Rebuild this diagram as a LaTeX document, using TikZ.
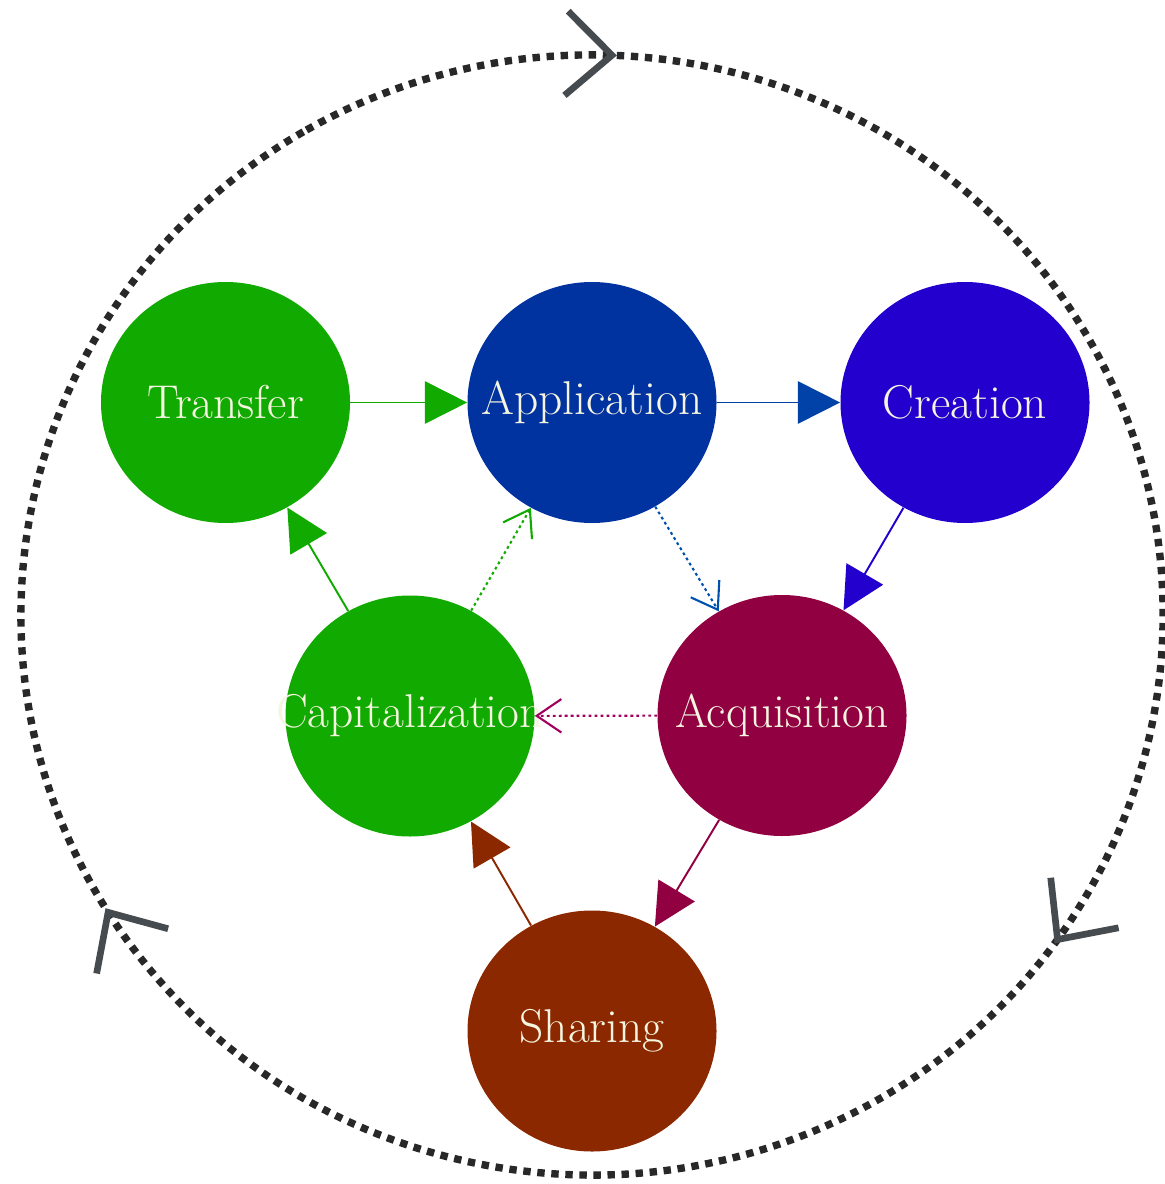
\documentclass[tikz,border=0pt]{standalone}
\usepackage{tikz}
\usetikzlibrary{positioning,arrows.meta,shapes.geometric,decorations.markings}

\definecolor{cgreen}{RGB}{17,170,0}
\definecolor{cblue}{RGB}{0,50,160}
\definecolor{cpurple}{RGB}{35,0,205}
\definecolor{ccrimson}{RGB}{145,0,65}
\definecolor{cbrown}{RGB}{140,40,0}
\definecolor{ctext}{RGB}{245,245,225}
\definecolor{cring}{RGB}{40,40,40}
\definecolor{cchev}{RGB}{70,75,80}

% label that does not widen its circle
\newcommand{\phtext}[1]{\makebox[0pt]{#1}}

\begin{document}
\begin{tikzpicture}[on grid,
		phase/.style={ellipse,minimum width=4.98cm,minimum height=4.82cm,inner sep=0pt,text=ctext,font=\fontsize{27}{30}\selectfont},
		flow/.style={line width=1.1pt,-{Triangle[length=24pt,width=24pt]}},
		weak/.style={line width=1.2pt,dash pattern=on 1.6pt off 1.8pt,-{Straight Barb[length=14pt,width=19pt,line width=1.2pt]}},
		chev/.tip={Straight Barb[length=26pt,width=48pt,line width=3.8pt,color=cchev]},
		ring/.style={cring,line width=4.2pt,dash pattern=on 4.2pt off 3.8pt}]
		\useasboundingbox (0,0) rectangle (23.28,-23.68);
		\node (tr) [phase,fill=cgreen] at (4.51,-8.05) {\phtext{Transfer}};
		\node (ap) [phase,fill=cblue,right=7.33cm of tr] {\phtext{Application}};
		\node (cr) [phase,fill=cpurple,right=7.46cm of ap] {\phtext{Creation}};
		\node (ca) [phase,fill=cgreen,below right=6.27cm and 3.69cm of tr] {\phtext{Capitalization}};
		\node (aq) [phase,fill=ccrimson,below right=6.26cm and 3.8cm of ap] {\phtext{Acquisition}};
		\node (sh) [phase,fill=cbrown,below right=6.3cm and 3.64cm of ca] {\phtext{Sharing}};
		\coordinate (ctr) at (11.84,-12.3);
		% outer cycle
		\draw[ring,postaction={decorate},decoration={markings,
			mark=at position 0.091 with {\arrow{chev}},
			mark=at position 0.433 with {\arrow{chev}},
			mark=at position 0.747 with {\arrow{chev}}}]
			(ctr) ++(120:11.42 and 11.2) arc[start angle=120,end angle=-240,x radius=11.42,y radius=11.2];
		\draw (tr) edge[flow,cgreen] (ap);
		\draw (ap) edge[flow,cblue!92!cyan] (cr);
		\draw (cr) edge[flow,cpurple] (aq);
		\draw (aq) edge[flow,ccrimson] (sh);
		\draw (sh) edge[flow,cbrown] (ca);
		\draw (ca) edge[flow,cgreen] (tr);
		\draw (ca) edge[weak,cgreen] (ap);
		\draw (ap) edge[weak,cblue!85!cyan] (aq);
		\draw (aq) edge[weak,ccrimson!85!magenta] (ca);
	\end{tikzpicture}
\end{document}
